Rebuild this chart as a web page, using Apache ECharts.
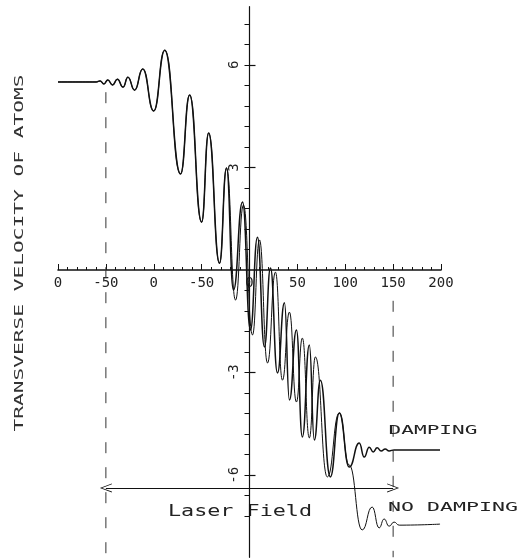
<!DOCTYPE html>
<html>
<head>
<meta charset="utf-8">
<script src="https://cdn.jsdelivr.net/npm/echarts@6/dist/echarts.min.js"></script>
<style>
html,body{margin:0;padding:0;background:#fff;}
#chart{width:518px;height:558px;}
</style>
</head>
<body>
<div id="chart"></div>
<script>
// ---- data ----
const xTickValues = [-200, -150, -100, -50, 0, 50, 100, 150, 200];
const xTickLabels = ['0', '-50', '0', '-50', '0', '50', '100', '150', '200'];
const yTickValues = [-6, -3, 3, 6];
const yTickLabels = ['-6', '-3', '3', '6'];
const yMinorTicks = [-7.2, -6.6, -6, -5.4, -4.8, -4.2, -3.6, -3, -2.4, -1.8, -1.2, -0.6, 0.6, 1.2, 1.8, 2.4, 3, 3.6, 4.2, 4.8, 5.4, 6, 6.6, 7.2];

// part shared by both curves (before the laser field splits them)
const sharedX = [-200, -160, -156, -152, -148, -143, -138, -132, -127, -120, -111.5, -100, -88.5, -72, -62.5, -50, -42.7, -31.3, -24];
const sharedY = [5.5, 5.5, 5.53, 5.44, 5.56, 5.41, 5.58, 5.35, 5.64, 5.26, 5.88, 4.65, 6.43, 2.81, 5.12, 1.40, 4.01, 0.20, 2.98];

// DAMPING curve
const dampX = [-16.7, -7.3, 1.0, 8.3, 15.6, 21.9, 29.2, 36.5, 41.7, 49.0, 55.2, 62.5, 67.7, 74.0, 84.4, 93.8, 104.2, 114.6, 119.8, 125.0, 129.2, 133.3, 137.5, 141.7, 145.8, 151.0, 199.0];
const dampY = [-0.58, 1.99, -1.75, 0.96, -2.25, 0.06, -3.01, -0.96, -3.80, -1.75, -4.88, -2.19, -4.97, -3.22, -6.05, -4.18, -5.76, -5.06, -5.47, -5.18, -5.32, -5.20, -5.29, -5.23, -5.29, -5.26, -5.26];

// NO DAMPING curve
const noDampX = [-14.6, -6.3, 3.1, 10.4, 18.8, 27.1, 34.4, 41.7, 49.0, 55.2, 62.5, 68.8, 81.3, 93.8, 104.0, 117.7, 128.1, 135.4, 140.6, 145.8, 151.0, 156.3, 199.0];
const noDampY = [-0.88, 1.90, -1.90, 0.88, -2.72, -0.06, -3.22, -1.23, -3.86, -1.99, -4.91, -2.54, -6.05, -4.18, -5.70, -7.60, -6.93, -7.54, -7.28, -7.49, -7.37, -7.46, -7.43];

// laser field boundaries and arrow level
const fieldStart = -150, fieldEnd = 150;
const leftGuideTop = 5.2, rightGuideTop = -0.9, guideBottom = -8.4;
const arrowLevel = -6.37;

const xMin = -200, xMax = 200, yMin = -8.4, yMax = 7.7;

// ---- build ----
function pairs(xs, ys) { return xs.map((x, i) => [x, ys[i]]); }
const sharedPts = pairs(sharedX, sharedY);
const dampData = sharedPts.concat(pairs(dampX, dampY));
const noDampData = sharedPts.concat(pairs(noDampX, noDampY));

const mono = '"DejaVu Sans Mono", "Liberation Mono", monospace';
const ink = '#111';

const W = 518, H = 558;
const G = {left: 58, right: 77, top: 6.7, bottom: 0.7};
const gw = W - G.left - G.right, gh = H - G.top - G.bottom;
// offsets that move the axes onto the zero lines
const xAxisOffset = -(gh * (0 - yMin) / (yMax - yMin));
const yAxisOffset = -(gw * (0 - xMin) / (xMax - xMin));

const chart = echarts.init(document.getElementById('chart'), null, {renderer: 'canvas'});
const chevron = 'path://M0,10 L5,0 L10,10 L9,10 L5,1.8 L1,10 Z';

chart.setOption({
  animation: false,
  backgroundColor: '#fff',
  grid: Object.assign({outerBoundsMode: 'none', containLabel: false}, G),
  xAxis: {
    type: 'value', min: xMin, max: xMax, interval: 50,
    position: 'bottom', offset: xAxisOffset,
    axisLine: {onZero: false, lineStyle: {color: ink, width: 1.6}},
    axisTick: {show: true, inside: true, length: 6, lineStyle: {color: ink, width: 1}},
    minorTick: {show: true, splitNumber: 5, length: 3, lineStyle: {color: ink, width: 1}},
    splitLine: {show: false},
    axisLabel: {
      margin: 6, fontFamily: mono, fontSize: 14, color: '#222',
      showMinLabel: true, showMaxLabel: true,
      formatter: function (v) {
        const i = xTickValues.indexOf(v);
        return i >= 0 ? xTickLabels[i] : '';
      }
    }
  },
  yAxis: [{
    type: 'value', min: yMin, max: yMax,
    position: 'left', offset: yAxisOffset,
    axisLine: {onZero: false, lineStyle: {color: ink, width: 1.2}},
    axisTick: {show: true, length: 5, customValues: yMinorTicks, lineStyle: {color: ink}},
    splitLine: {show: false},
    axisLabel: {
      customValues: yTickValues, rotate: 90, margin: 8,
      fontFamily: mono, fontSize: 14, color: '#222',
      formatter: function (v) {
        const i = yTickValues.indexOf(v);
        return i >= 0 ? yTickLabels[i] : '';
      }
    }
  }, {
    type: 'value', min: yMin, max: yMax,
    position: 'left', offset: yAxisOffset,
    axisLine: {onZero: false, show: false},
    axisTick: {show: true, inside: true, length: 6, customValues: yTickValues, lineStyle: {color: ink, width: 1.2}},
    splitLine: {show: false},
    axisLabel: {show: false}
  }],
  series: [
    {
      name: 'DAMPING', type: 'line', data: dampData, showSymbol: false,
      smooth: 0.5, smoothMonotone: 'x',
      lineStyle: {color: ink, width: 1.5}, z: 3,
      markLine: {
        silent: true, animation: false,
        symbol: [chevron, chevron], symbolSize: [9, 12],
        label: {show: false},
        lineStyle: {color: ink, width: 1, type: 'solid'},
        data: [[{coord: [fieldStart, arrowLevel]}, {coord: [fieldEnd, arrowLevel]}]]
      }
    },
    {
      name: 'NO DAMPING', type: 'line', data: noDampData, showSymbol: false,
      smooth: 0.5, smoothMonotone: 'x',
      lineStyle: {color: ink, width: 1}, z: 2
    },
    {
      type: 'line', data: [[fieldStart, leftGuideTop], [fieldStart, guideBottom]],
      showSymbol: false, lineStyle: {color: '#333', width: 1, type: [11, 14]}, z: 1
    },
    {
      type: 'line', data: [[fieldEnd, rightGuideTop], [fieldEnd, guideBottom]],
      showSymbol: false, lineStyle: {color: '#333', width: 1, type: [11, 14]}, z: 1
    }
  ],
  graphic: [
    {type: 'text', x: 20, y: 253, rotation: Math.PI / 2, scaleX: 1.63,
     style: {text: 'TRANSVERSE VELOCITY OF ATOMS', font: '13px ' + mono, fill: '#333',
             align: 'center', verticalAlign: 'middle', textAlign: 'center', textVerticalAlign: 'middle'}},
    {type: 'text', x: 240, y: 512, scaleX: 1.45,
     style: {text: 'Laser Field', font: '15px ' + mono, fill: '#222',
             align: 'center', verticalAlign: 'middle', textAlign: 'center', textVerticalAlign: 'middle'}},
    {type: 'text', x: 433, y: 431, scaleX: 1.62,
     style: {text: 'DAMPING', font: '13px ' + mono, fill: '#222',
             align: 'center', verticalAlign: 'middle', textAlign: 'center', textVerticalAlign: 'middle'}},
    {type: 'text', x: 453, y: 508, scaleX: 1.66,
     style: {text: 'NO DAMPING', font: '13px ' + mono, fill: '#222',
             align: 'center', verticalAlign: 'middle', textAlign: 'center', textVerticalAlign: 'middle'}}
  ]
});
</script>
</body>
</html>
